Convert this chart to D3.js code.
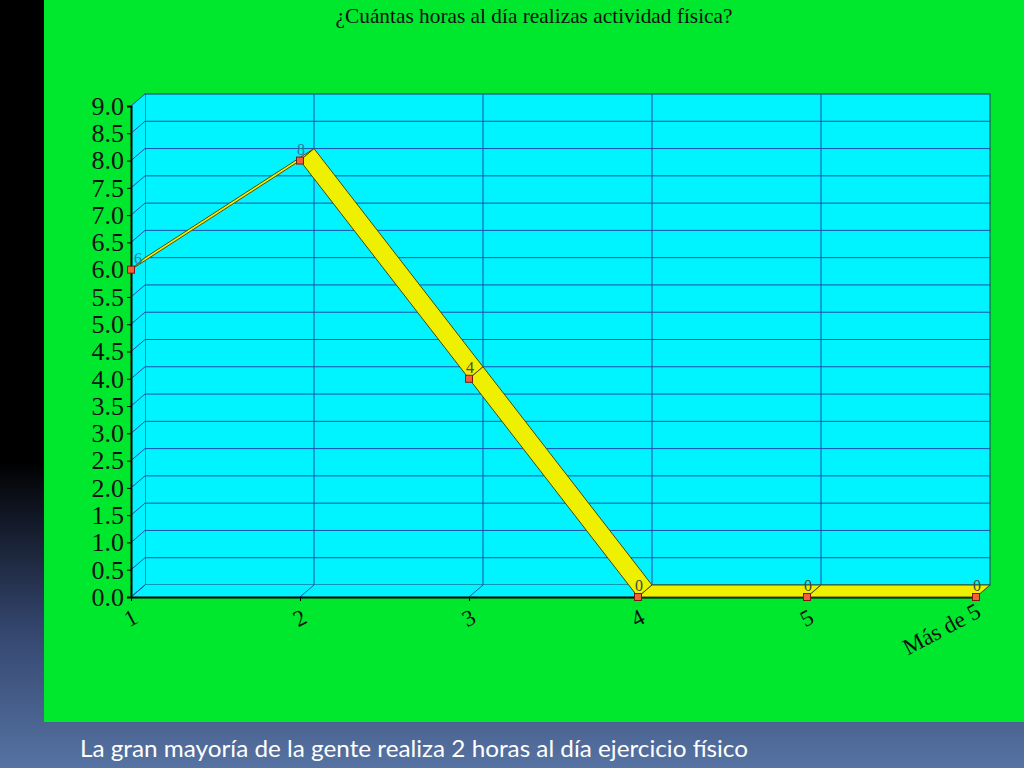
<!DOCTYPE html>
<html>
<head>
<meta charset="utf-8">
<script src="https://cdn.jsdelivr.net/npm/d3@7"></script>
<style>
  body { margin: 0; background: #000; }
  svg { display: block; }
</style>
</head>
<body>
<svg></svg>
<script>
var width = 1024
var height = 768

var categories = ["1", "2", "3", "4", "5", "Más de 5"]
var values = [6, 8, 4, 0, 0, 0]
var yTicks = [0, 0.5, 1, 1.5, 2, 2.5, 3, 3.5, 4, 4.5, 5, 5.5, 6, 6.5, 7, 7.5, 8, 8.5, 9]

var title = "¿Cuántas horas al día realizas actividad física?"
var caption = "La  gran mayoría de la gente realiza 2 horas al día ejercicio físico"

// 3d depth offset
var dx = 14
var dy = -12

var svg = d3.select("svg")
	.attr("width", width)
	.attr("height", height)

// slide background
var defs = svg.append("defs")
var grad = defs.append("linearGradient")
	.attr("id", "slideBg")
	.attr("x1", 0).attr("y1", 0).attr("x2", 0).attr("y2", 1)
grad.append("stop").attr("offset", "0%").attr("stop-color", "#000000")
grad.append("stop").attr("offset", "60%").attr("stop-color", "#000000")
grad.append("stop").attr("offset", "82%").attr("stop-color", "#34466e")
grad.append("stop").attr("offset", "100%").attr("stop-color", "#5673a3")

svg.append("rect")
	.attr("width", width)
	.attr("height", height)
	.attr("fill", "url(#slideBg)")

// green panel
svg.append("rect")
	.attr("x", 44)
	.attr("y", 0)
	.attr("width", width - 44)
	.attr("height", 722)
	.attr("fill", "#00e82e")

svg.append("text")
	.attr("x", 534)
	.attr("y", 23)
	.attr("text-anchor", "middle")
	.attr("font-family", "Liberation Serif, Times New Roman, serif")
	.attr("font-size", 22)
	.attr("fill", "#111")
	.attr("textLength", 397)
	.attr("lengthAdjust", "spacingAndGlyphs")
	.text(title)

var xScale = d3.scalePoint()
	.domain(categories)
	.range([131, 976])

var yScale = d3.scaleLinear()
	.domain([0, 9])
	.range([597, 106])

var x0 = xScale(categories[0])
var x1 = xScale(categories[categories.length - 1])
var yTop = yScale(9)
var yBot = yScale(0)

var chart = svg.append("g")

var cyan = "#00f4ff"
var gridCol = "#1d4fb0"

// back wall
chart.append("rect")
	.attr("x", x0 + dx)
	.attr("y", yTop + dy)
	.attr("width", x1 - x0)
	.attr("height", yBot - yTop)
	.attr("fill", cyan)
	.attr("stroke", "#1a3a60")
	.attr("stroke-width", 1)

// left wall
chart.append("polygon")
	.attr("points", [[x0, yBot], [x0 + dx, yBot + dy], [x0 + dx, yTop + dy], [x0, yTop]].join(" "))
	.attr("fill", cyan)

// floor
chart.append("polygon")
	.attr("points", [[x0, yBot], [x1, yBot], [x1 + dx, yBot + dy], [x0 + dx, yBot + dy]].join(" "))
	.attr("fill", cyan)

// horizontal grid
chart.selectAll(".hgrid")
	.data(yTicks.slice(1, -1))
	.join("line")
	.attr("class", "hgrid")
	.attr("x1", x0 + dx)
	.attr("x2", x1 + dx)
	.attr("y1", function(d){ return yScale(d) + dy })
	.attr("y2", function(d){ return yScale(d) + dy })
	.attr("stroke", gridCol)
	.attr("stroke-width", 1)

chart.selectAll(".hgridSide")
	.data(yTicks)
	.join("line")
	.attr("class", "hgridSide")
	.attr("x1", x0)
	.attr("x2", x0 + dx)
	.attr("y1", function(d){ return yScale(d) })
	.attr("y2", function(d){ return yScale(d) + dy })
	.attr("stroke", gridCol)
	.attr("stroke-width", 1)

// vertical grid
chart.selectAll(".vgrid")
	.data(categories.slice(1, -1))
	.join("line")
	.attr("class", "vgrid")
	.attr("x1", function(d){ return xScale(d) + dx })
	.attr("x2", function(d){ return xScale(d) + dx })
	.attr("y1", yTop + dy)
	.attr("y2", yBot + dy)
	.attr("stroke", gridCol)
	.attr("stroke-width", 1)

chart.selectAll(".vgridFloor")
	.data(categories)
	.join("line")
	.attr("class", "vgridFloor")
	.attr("x1", function(d){ return xScale(d) })
	.attr("x2", function(d){ return xScale(d) + dx })
	.attr("y1", yBot)
	.attr("y2", yBot + dy)
	.attr("stroke", gridCol)
	.attr("stroke-width", 1)

// axes
var yAxis = d3.axisLeft(yScale)
	.tickValues(yTicks)
	.tickFormat(d3.format(".1f"))
	.tickSize(4)
	.tickPadding(3)

var yG = chart.append("g")
	.attr("transform", "translate(" + x0 + ",0)")
	.call(yAxis)
yG.select(".domain").attr("stroke", "#000").attr("stroke-width", 2)
yG.selectAll(".tick line").attr("stroke", "#000")
yG.selectAll(".tick text")
	.attr("font-family", "Liberation Serif, Times New Roman, serif")
	.attr("font-size", 26)
	.attr("fill", "#111")

var xAxis = d3.axisBottom(xScale)
	.tickSize(4)
	.tickSizeOuter(0)

var xG = chart.append("g")
	.attr("transform", "translate(0," + yBot + ")")
	.call(xAxis)
xG.select(".domain").attr("stroke", "#000").attr("stroke-width", 2)
xG.selectAll(".tick line").attr("stroke", "#000")
xG.selectAll(".tick text")
	.attr("font-family", "Liberation Serif, Times New Roman, serif")
	.attr("font-size", 23)
	.attr("fill", "#111")
	.attr("text-anchor", "end")
	.attr("dy", null)
	.attr("y", 0)
	.attr("transform", function(d){
		return d === "Más de 5" ? "translate(6,19) rotate(-28)" : "translate(8,25) rotate(-28)"
	})

// ribbon
var pts = categories.map(function(c, i){
	return { x: xScale(c), y: yScale(values[i]), v: values[i] }
})

var segs = []
for (var i = 0; i < pts.length - 1; i++) {
	segs.push([pts[i], pts[i + 1]])
}

chart.selectAll(".ribbon")
	.data(segs)
	.join("polygon")
	.attr("class", "ribbon")
	.attr("points", function(d){
		var a = d[0], b = d[1]
		return [[a.x, a.y], [b.x, b.y], [b.x + dx, b.y + dy], [a.x + dx, a.y + dy]].join(" ")
	})
	.attr("fill", "#eef000")
	.attr("stroke", "#4a4a10")
	.attr("stroke-width", 1)
	.attr("stroke-linejoin", "round")

// markers
chart.selectAll(".marker")
	.data(pts)
	.join("rect")
	.attr("class", "marker")
	.attr("x", function(d){ return d.x - 3.5 })
	.attr("y", function(d){ return d.y - 3.5 })
	.attr("width", 7)
	.attr("height", 7)
	.attr("fill", "#f4603a")
	.attr("stroke", "#7a1a10")
	.attr("stroke-width", 1)

// value labels
chart.selectAll(".vlabel")
	.data(pts)
	.join("text")
	.attr("class", "vlabel")
	.attr("x", function(d, i){ return i === 0 ? d.x + 7 : d.x + 1 })
	.attr("y", function(d){ return d.y - 6 })
	.attr("text-anchor", "middle")
	.attr("font-family", "Liberation Serif, Times New Roman, serif")
	.attr("font-size", 16)
	.attr("fill", function(d){ return d.v > 4 ? "#2d7a96" : "#3f4a40" })
	.text(function(d){ return d.v })

// caption
svg.append("text")
	.attr("x", 80)
	.attr("y", 757)
	.attr("font-family", "Lato, Open Sans, sans-serif")
	.attr("font-size", 23)
	.attr("fill", "#ffffff")
	.attr("textLength", 668)
	.attr("lengthAdjust", "spacingAndGlyphs")
	.text(caption)
</script>
</body>
</html>
